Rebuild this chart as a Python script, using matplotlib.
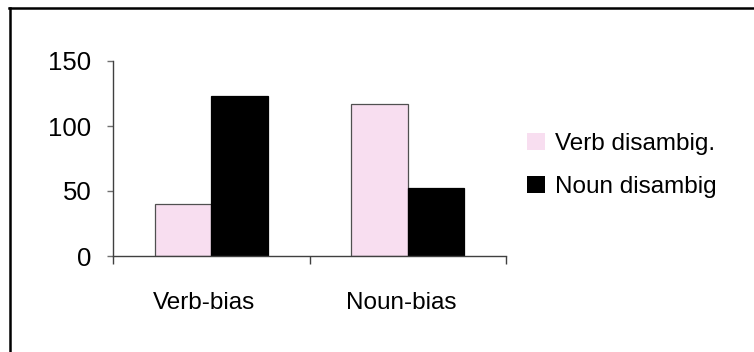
import matplotlib
matplotlib.use("Agg")
import matplotlib.pyplot as plt
from matplotlib.lines import Line2D
from matplotlib.transforms import ScaledTranslation
import numpy as np

categories = ["Verb-bias", "Noun-bias"]
series_names = ["Verb disambig.", "Noun disambig"]
verb_disambig = [40, 117]
noun_disambig = [123, 52]
y_ticks = [0, 50, 100, 150]

pink = "#F8DEF0"
W, H = 754, 352
plt.rcParams["font.family"] = ["Liberation Sans", "DejaVu Sans"]

fig = plt.figure(figsize=(W / 100, H / 100), dpi=100)
fig.patch.set_facecolor("white")

# Frame around the chart area (only top and left edges fall inside the canvas)
fig.add_artist(Line2D([9 / W, 1.0], [1 - 8 / H, 1 - 8 / H], color="black", lw=1.8,
                      transform=fig.transFigure, solid_capstyle="projecting"))
fig.add_artist(Line2D([9.5 / W, 9.5 / W], [1 - 8 / H, 0.0], color="black", lw=1.8,
                      transform=fig.transFigure, solid_capstyle="projecting"))

ax = fig.add_axes([113 / W, 96 / H, (506 - 113) / W, (291 - 96) / H])
x = np.arange(len(categories))
bw = 0.287
ax.bar(x - bw / 2, verb_disambig, width=bw, color=pink, edgecolor="#505050",
       linewidth=0.9, label=series_names[0], zorder=2)
ax.bar(x + bw / 2, noun_disambig, width=bw, color="black", edgecolor="black",
       linewidth=0.9, label=series_names[1], zorder=2)

ax.set_xlim(-0.5, len(categories) - 0.5)
ax.set_ylim(0, 150)

for side in ("top", "right"):
    ax.spines[side].set_visible(False)
for side in ("left", "bottom"):
    ax.spines[side].set_color("#404040")
    ax.spines[side].set_linewidth(1.0)

ax.set_yticks(y_ticks)
ax.set_yticklabels([str(v) for v in y_ticks])
ax.tick_params(axis="y", length=4.5, width=1.0, color="#707070", pad=11,
               labelsize=18.5)

# Category labels between boundary ticks, nudged slightly left
ax.set_xticks(x)
ax.set_xticklabels(categories)
ax.set_xticks(np.arange(len(categories) + 1) - 0.5, minor=True)
ax.tick_params(axis="x", which="major", length=0, pad=26, labelsize=17.5)
ax.tick_params(axis="x", which="minor", length=6, width=1.0, color="#404040")
shift = ScaledTranslation(-7 / 100, 0, fig.dpi_scale_trans)
for lbl in ax.get_xticklabels():
    lbl.set_transform(lbl.get_transform() + shift)

leg = ax.legend(loc="upper left", bbox_to_anchor=(527 / W, 1 - 133 / H),
                bbox_transform=fig.transFigure, frameon=False, fontsize=17.5,
                handlelength=0.72, handleheight=0.72, handletextpad=0.45,
                labelspacing=0.85, borderpad=0, borderaxespad=0)
for h in leg.legend_handles:
    h.set_linewidth(0)

fig.savefig("out.png", dpi=100, facecolor="white")
